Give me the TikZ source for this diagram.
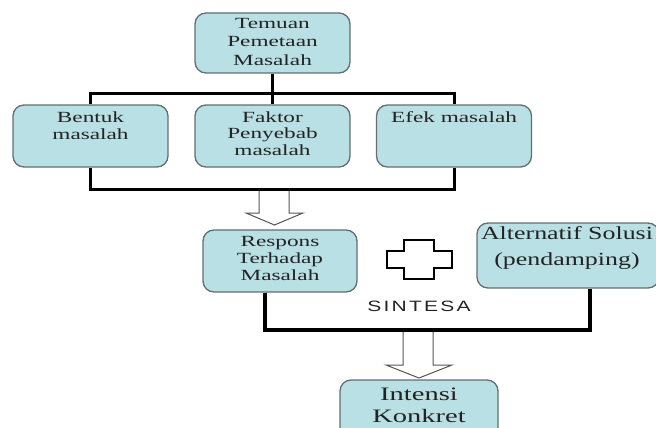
\documentclass[tikz,border=0pt]{standalone}
\usepackage{fontspec}
\setmainfont{Liberation Serif}[FakeStretch=1.5]
\newfontfamily\altfont{Liberation Serif}[FakeStretch=1.4]
\newfontfamily\sintfont{Liberation Sans}[FakeStretch=1.4,LetterSpace=15]
\usetikzlibrary{calc}
\definecolor{boxfill}{RGB}{185,224,228}
\definecolor{boxline}{RGB}{100,110,112}
\definecolor{arrline}{RGB}{85,85,85}
\definecolor{txtcol}{RGB}{35,35,35}
\begin{document}
\begin{tikzpicture}[x=1pt,y=-1pt,
  box/.style={draw=boxline, fill=boxfill, line width=1.3pt, rounded corners=11pt, inner sep=0pt},
  txt/.style={anchor=north, align=center, inner sep=0pt, text=txtcol, font=\fontsize{15.5}{17}\selectfont},
  conn/.style={line width=3pt, black, line join=miter},
  sconn/.style={line width=4.5pt, black, line join=miter},
  hollow/.style={draw=arrline, fill=white, line width=1pt, line join=miter},
  plusshape/.style={draw=black, fill=white, line width=1.2pt, line join=miter}]
\useasboundingbox (0,0) rectangle (656,428);
\clip (0,0) rectangle (656,428);

% boxes
\node[box, minimum width=155pt, minimum height=60pt] (top) at (272.5,43) {};
\node[box, minimum width=155pt, minimum height=62pt] (bentuk) at (90.5,136) {};
\node[box, minimum width=155pt, minimum height=62pt] (faktor) at (272.5,136) {};
\node[box, minimum width=155pt, minimum height=62pt] (efek) at (454,136) {};
\node[box, minimum width=154pt, minimum height=62pt] (resp) at (280,261) {};
\node[box, minimum width=182pt, minimum height=65pt] (alt) at (568,255.5) {};
\node[box, minimum width=158pt, minimum height=64pt] (intensi) at (419,412) {};

% texts
\node[txt, font=\fontsize{15.5}{18.5}\selectfont] (ttop) at ($(top.north)+(0,5.5)$) {Temuan\\Pemetaan\\Masalah};
\node[txt] (tbentuk) at ($(bentuk.north)+(0,7.5)$) {Bentuk\\masalah};
\node[txt, font=\fontsize{15.5}{16.5}\selectfont] (tfaktor) at ($(faktor.north)+(0,7)$) {Faktor\\Penyebab\\masalah};
\node[txt] (tefek) at ($(efek.north)+(0,7)$) {Efek masalah};
\node[txt] (tresp) at ($(resp.north)+(0,7)$) {Respons\\Terhadap\\Masalah};
\node[txt, font=\altfont\fontsize{18.5}{26}\selectfont] (talt) at ($(alt.north)+(-1,4)$) {Alternatif Solusi\\(pendamping)};
\node[txt, font=\fontsize{19}{22}\selectfont] (tint) at ($(intensi.north)+(0,8)$) {Intensi\\Konkret};
\node[inner sep=0pt, text=txtcol, font=\sintfont\fontsize{15}{17}\selectfont] (sint) at (419,306) {SINTESA};

% hollow arrows
\coordinate (a1) at (274.5,189);
\draw[hollow] (259,189) -- (259,213) -- (246,213) -- (274.5,225) -- (303,213) -- (289,213) -- (289,189);
\coordinate (a2) at (418,330);
\draw[hollow] (403,330) -- (403,365) -- (386,365) -- (419,378) -- (452,365) -- (433,365) -- (433,330);

% plus sign
\draw[plusshape] (404,240) -- (434,240) -- (434,251) -- (452,251) -- (452,268) -- (434,268)
  -- (434,279) -- (404,279) -- (404,268) -- (387,268) -- (387,251) -- (404,251) -- cycle;

% connectors
\draw[conn] (top.south) -- (faktor.north);
\draw[conn] (bentuk.north) |- ($(efek.north)+(0,-11)$) -- (efek.north);
\draw[conn] (bentuk.south) |- ($(efek.south)+(0,22)$) -- (efek.south);
\coordinate (rl) at (265,330);
\coordinate (ar) at (590,330);
\draw[sconn] (resp.south -| rl) -- (rl) -- (ar) -- (alt.south -| ar);
\end{tikzpicture}
\end{document}
